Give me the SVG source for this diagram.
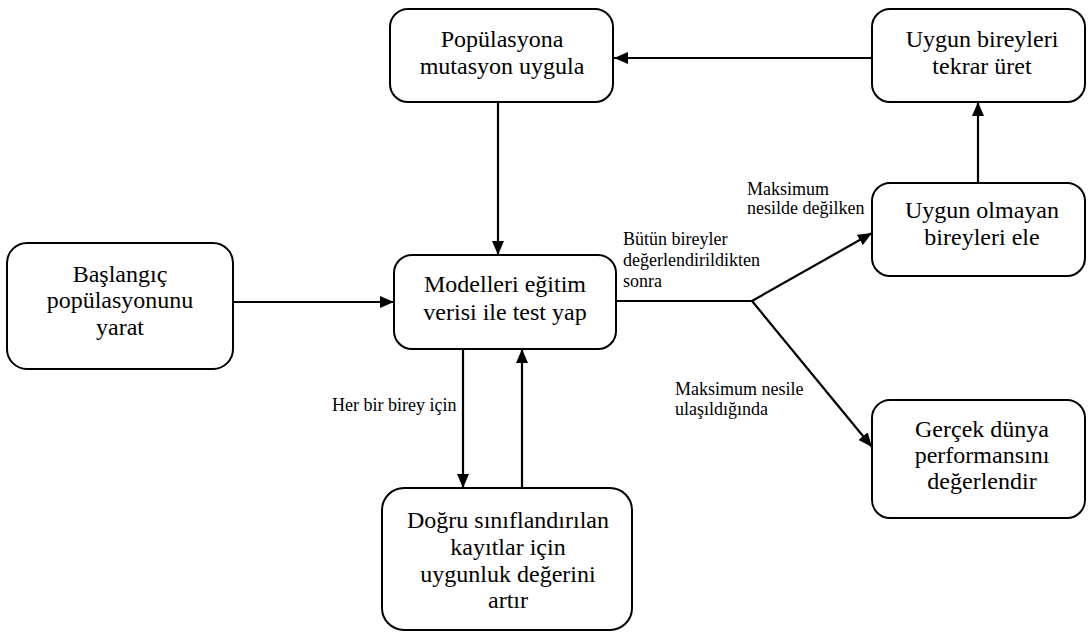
<svg xmlns="http://www.w3.org/2000/svg" width="1088" height="634" viewBox="0 0 1088 634">
  <defs>
    <marker id="arrow" markerUnits="userSpaceOnUse" viewBox="0 0 14 12" markerWidth="14" markerHeight="12" refX="14" refY="6" orient="auto">
      <path d="M0,0 L14,6 L0,12 z" fill="#000000"/>
    </marker>
    <!-- shared rounded box outline -->
  </defs>
  <rect width="1088" height="634" fill="#ffffff"/>

  <!-- connectors -->
  <g id="connectors" fill="none" stroke="#000000" stroke-width="2.2">
    <line x1="233" y1="302" x2="394" y2="302" marker-end="url(#arrow)"/>
    <line x1="498" y1="102" x2="498" y2="255" marker-end="url(#arrow)"/>
    <line x1="872" y1="58" x2="614" y2="58" marker-end="url(#arrow)"/>
    <line x1="978" y1="183" x2="978" y2="102" marker-end="url(#arrow)"/>
    <polyline points="616,301 752,301"/>
    <line x1="752" y1="301" x2="872" y2="233" marker-end="url(#arrow)"/>
    <line x1="752" y1="301" x2="872" y2="447" marker-end="url(#arrow)"/>
    <line x1="463" y1="349" x2="463" y2="488" marker-end="url(#arrow)"/>
    <line x1="522" y1="488" x2="522" y2="349" marker-end="url(#arrow)"/>
  </g>

  <!-- connector labels -->
  <g id="labels" font-family="'Liberation Serif', serif" font-size="18" fill="#000000">
    <text x="747" y="195">Maksimum</text>
    <text x="747" y="214">nesilde değilken</text>
    <text x="623" y="245">Bütün bireyler</text>
    <text x="623" y="266">değerlendirildikten</text>
    <text x="623" y="287">sonra</text>
    <text x="675" y="395">Maksimum nesile</text>
    <text x="675" y="415">ulaşıldığında</text>
    <text x="332" y="411">Her bir birey için</text>
  </g>

  <g id="nodes" font-family="'Liberation Serif', serif" font-size="24" text-anchor="middle" fill="#000000">
    <g id="node-mutasyon">
      <rect x="390" y="9" width="223" height="93" rx="18" fill="#ffffff" stroke="#000000" stroke-width="2"/>
      <text x="502" y="47">Popülasyona</text>
      <text x="502" y="74">mutasyon uygula</text>
    </g>

    <g id="node-tekrar-uret">
      <rect x="872" y="9" width="213" height="93" rx="18" fill="#ffffff" stroke="#000000" stroke-width="2"/>
      <text x="982" y="47">Uygun bireyleri</text>
      <text x="982" y="74">tekrar üret</text>
    </g>

    <g id="node-ele">
      <rect x="872" y="183" width="213" height="93" rx="18" fill="#ffffff" stroke="#000000" stroke-width="2"/>
      <text x="982" y="218">Uygun olmayan</text>
      <text x="982" y="245">bireyleri ele</text>
    </g>

    <g id="node-baslangic">
      <rect x="7" y="243" width="226" height="126" rx="20" fill="#ffffff" stroke="#000000" stroke-width="2"/>
      <text x="120" y="282">Başlangıç</text>
      <text x="120" y="308">popülasyonunu</text>
      <text x="120" y="335">yarat</text>
    </g>

    <g id="node-test">
      <rect x="394" y="255" width="222" height="94" rx="18" fill="#ffffff" stroke="#000000" stroke-width="2"/>
      <text x="505" y="292">Modelleri eğitim</text>
      <text x="505" y="320">verisi ile test yap</text>
    </g>

    <g id="node-gercek">
      <rect x="872" y="400" width="213" height="118" rx="18" fill="#ffffff" stroke="#000000" stroke-width="2"/>
      <text x="982" y="437">Gerçek dünya</text>
      <text x="982" y="463">performansını</text>
      <text x="982" y="489">değerlendir</text>
    </g>

    <g id="node-uygunluk">
      <rect x="382" y="488" width="250" height="142" rx="22" fill="#ffffff" stroke="#000000" stroke-width="2"/>
      <text x="508" y="528">Doğru sınıflandırılan</text>
      <text x="508" y="555">kayıtlar için</text>
      <text x="508" y="582">uygunluk değerini</text>
      <text x="508" y="608">artır</text>
    </g>
  </g>
</svg>
